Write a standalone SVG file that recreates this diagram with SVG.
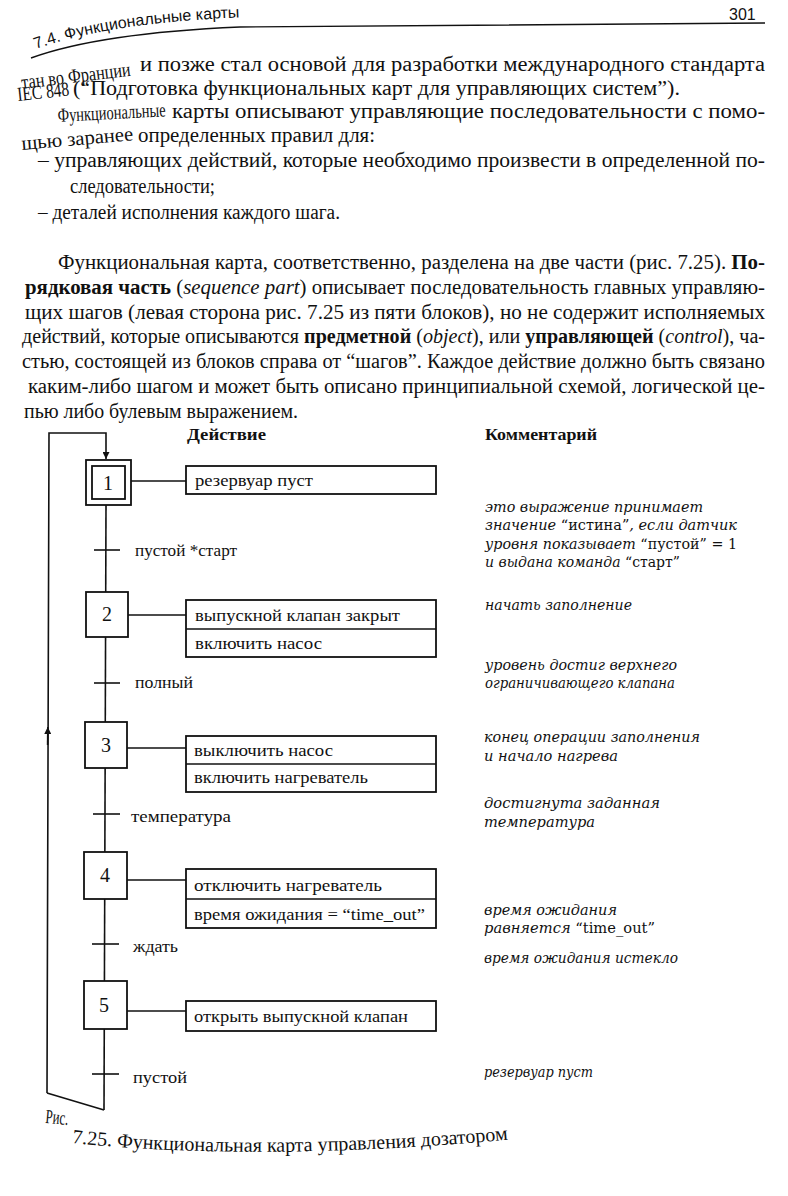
<svg xmlns="http://www.w3.org/2000/svg" width="788" height="1196" viewBox="0 0 788 1196">
<style>
.body{font-family:"Liberation Serif",serif;font-size:20px;fill:#111}
.b{font-weight:bold}
.i{font-style:italic}
.hdr{font-family:"Liberation Sans",sans-serif;font-size:16px;fill:#111}
.lbl{font-family:"Liberation Serif",serif;font-size:17px;fill:#111}
.num{font-family:"Liberation Serif",serif;font-size:20px;fill:#111;text-anchor:middle}
.hd{font-family:"Liberation Serif",serif;font-size:17px;font-weight:bold;fill:#111}
.cm{font-family:"DejaVu Serif",serif;font-style:italic;font-size:14px;fill:#111}
.up{font-style:normal}
.box{fill:#fff;stroke:#111;stroke-width:1.8}
.ln{stroke:#111;stroke-width:1.6;fill:none}
.rule{stroke:#111;stroke-width:1.4;fill:none}
</style>
<defs>
<marker id="ah" viewBox="0 0 10 10" refX="10" refY="5" markerWidth="7" markerHeight="7" orient="auto" markerUnits="userSpaceOnUse">
<path d="M0,0 L10,5 L0,10 z" fill="#111"/>
</marker>
<path id="hp" d="M 36 49 Q 110 22 250 17"/>
<path id="cp" d="M 72 1143 Q 260 1162 505 1140"/>
</defs>
<rect width="788" height="1196" fill="#fff"/>

<g id="page-header">
<text class="hdr"><textPath href="#hp">7.4. Функциональные карты</textPath></text>
<text class="hdr" x="729" y="20" font-size="17">301</text>
<path class="rule" d="M 31 58 Q 100 33 240 27 L 765 23"/>
</g>

<g id="paragraph-1">
<text class="body" x="22" y="89" transform="rotate(-7 22 89)" textLength="110" lengthAdjust="spacingAndGlyphs">тан во Франции</text>
<text class="body" x="140" y="71" textLength="625" lengthAdjust="spacingAndGlyphs">и позже стал основой для разработки международного стандарта</text>
<text class="body" x="18" y="101" transform="rotate(-6 18 101)" textLength="52" lengthAdjust="spacingAndGlyphs">IEC 848</text>
<text class="body" x="73" y="95" textLength="607" lengthAdjust="spacingAndGlyphs">(“Подготовка функциональных карт для управляющих систем”).</text>
<text class="body" x="58" y="122" transform="rotate(-3 58 122)" textLength="108" lengthAdjust="spacingAndGlyphs">Функциональные</text>
<text class="body" x="172" y="118" textLength="593" lengthAdjust="spacingAndGlyphs">карты описывают управляющие последовательности с помо-</text>
<text class="body" x="22" y="150" transform="rotate(-5 22 150)" textLength="112" lengthAdjust="spacingAndGlyphs">щью заранее</text>
<text class="body" x="138" y="142" textLength="237" lengthAdjust="spacingAndGlyphs">определенных правил для:</text>
<text class="body" x="38" y="167" textLength="727" lengthAdjust="spacingAndGlyphs">– управляющих действий, которые необходимо произвести в определенной по-</text>
<text class="body" x="70" y="193" textLength="145" lengthAdjust="spacingAndGlyphs">следовательности;</text>
<text class="body" x="38" y="219" textLength="302" lengthAdjust="spacingAndGlyphs">– деталей исполнения каждого шага.</text>
</g>

<g id="paragraph-2">
<text class="body" x="58" y="269" textLength="707" lengthAdjust="spacingAndGlyphs">Функциональная карта, соответственно, разделена на две части (рис. 7.25). <tspan class="b">По-</tspan></text>
<text class="body" x="25" y="294" textLength="740" lengthAdjust="spacingAndGlyphs"><tspan class="b">рядковая часть</tspan> (<tspan class="i">sequence part</tspan>) описывает последовательность главных управляю-</text>
<text class="body" x="25" y="319" textLength="740" lengthAdjust="spacingAndGlyphs">щих шагов (левая сторона рис. 7.25 из пяти блоков), но не содержит исполняемых</text>
<text class="body" x="22" y="343" textLength="743" lengthAdjust="spacingAndGlyphs">действий, которые описываются <tspan class="b">предметной</tspan> (<tspan class="i">object</tspan>), или <tspan class="b">управляющей</tspan> (<tspan class="i">control</tspan>), ча-</text>
<text class="body" x="22" y="368" textLength="743" lengthAdjust="spacingAndGlyphs">стью, состоящей из блоков справа от “шагов”. Каждое действие должно быть связано</text>
<text class="body" x="28" y="393" textLength="737" lengthAdjust="spacingAndGlyphs">каким-либо шагом и может быть описано принципиальной схемой, логической це-</text>
<text class="body" x="24" y="418" textLength="274" lengthAdjust="spacingAndGlyphs">пью либо булевым выражением.</text>
</g>

<g id="column-headers">
<text class="hd" x="187" y="440" textLength="79" lengthAdjust="spacingAndGlyphs">Действие</text>
<text class="hd" x="485" y="440" textLength="112" lengthAdjust="spacingAndGlyphs">Комментарий</text>
</g>

<g id="connectors">
<path class="ln" d="M 47 1093 L 49 433 L 106 433 L 106 459" marker-end="url(#ah)"/>
<path class="ln" d="M 47.6 745 L 47.8 727" marker-end="url(#ah)"/>
<path class="ln" d="M 47 1093 L 104 1110"/>
<path class="ln" d="M 106 505 L 104 1110"/>
<path class="ln" d="M 131 481 L 186 481"/>
<path class="ln" d="M 128 615 L 186 615"/>
<path class="ln" d="M 127 748 L 186 748"/>
<path class="ln" d="M 127 880 L 186 880"/>
<path class="ln" d="M 127 1011 L 186 1011"/>
</g>

<g id="transitions">
<path class="ln" d="M 94 550 L 120 550"/>
<path class="ln" d="M 94 683 L 120 683"/>
<path class="ln" d="M 93 814 L 120 814"/>
<path class="ln" d="M 92 944 L 119 944"/>
<path class="ln" d="M 92 1074 L 119 1074"/>
<text class="lbl" x="135" y="556" textLength="102" lengthAdjust="spacingAndGlyphs">пустой *старт</text>
<text class="lbl" x="135" y="688" textLength="58" lengthAdjust="spacingAndGlyphs">полный</text>
<text class="lbl" x="131" y="822" textLength="100" lengthAdjust="spacingAndGlyphs">температура</text>
<text class="lbl" x="133" y="952" textLength="45" lengthAdjust="spacingAndGlyphs">ждать</text>
<text class="lbl" x="133" y="1083" textLength="54" lengthAdjust="spacingAndGlyphs">пустой</text>
</g>

<g id="step-1">
<rect class="box" x="86" y="460" width="45" height="45"/>
<rect class="box" x="92" y="466" width="33" height="33"/>
<text class="num" x="108" y="490">1</text>
</g>
<g id="step-2">
<rect class="box" x="86" y="592" width="42" height="45"/>
<text class="num" x="107" y="621">2</text>
</g>
<g id="step-3">
<rect class="box" x="85" y="722" width="42" height="46"/>
<text class="num" x="106" y="752">3</text>
</g>
<g id="step-4">
<rect class="box" x="84" y="852" width="43" height="47"/>
<text class="num" x="105" y="882">4</text>
</g>
<g id="step-5">
<rect class="box" x="84" y="981" width="43" height="48"/>
<text class="num" x="104" y="1012">5</text>
</g>

<g id="action-1">
<rect class="box" x="186" y="466" width="250" height="28"/>
<text class="lbl" x="195" y="486" textLength="118" lengthAdjust="spacingAndGlyphs">резервуар пуст</text>
</g>
<g id="action-2">
<rect class="box" x="186" y="600" width="250" height="57"/>
<path class="ln" d="M 186 629 L 436 629"/>
<text class="lbl" x="195" y="621" textLength="205" lengthAdjust="spacingAndGlyphs">выпускной клапан закрыт</text>
<text class="lbl" x="195" y="649" textLength="127" lengthAdjust="spacingAndGlyphs">включить насос</text>
</g>
<g id="action-3">
<rect class="box" x="186" y="736" width="250" height="56"/>
<path class="ln" d="M 186 764 L 436 764"/>
<text class="lbl" x="194" y="756" textLength="139" lengthAdjust="spacingAndGlyphs">выключить насос</text>
<text class="lbl" x="194" y="783" textLength="174" lengthAdjust="spacingAndGlyphs">включить нагреватель</text>
</g>
<g id="action-4">
<rect class="box" x="186" y="869" width="250" height="59"/>
<path class="ln" d="M 186 899 L 436 899"/>
<text class="lbl" x="194" y="891" textLength="188" lengthAdjust="spacingAndGlyphs">отключить нагреватель</text>
<text class="lbl" x="194" y="920" textLength="231" lengthAdjust="spacingAndGlyphs">время ожидания = “time_out”</text>
</g>
<g id="action-5">
<rect class="box" x="186" y="1001" width="250" height="30"/>
<text class="lbl" x="194" y="1022" textLength="214" lengthAdjust="spacingAndGlyphs">открыть выпускной клапан</text>
</g>

<g id="comments">
<text class="cm" x="485" y="512" textLength="218" lengthAdjust="spacingAndGlyphs">это выражение принимает</text>
<text class="cm" x="485" y="530" textLength="252" lengthAdjust="spacingAndGlyphs">значение <tspan class="up">“истина”</tspan>, если датчик</text>
<text class="cm" x="485" y="549" textLength="252" lengthAdjust="spacingAndGlyphs">уровня показывает <tspan class="up">“пустой” = 1</tspan></text>
<text class="cm" x="485" y="567" textLength="195" lengthAdjust="spacingAndGlyphs">и выдана команда <tspan class="up">“старт”</tspan></text>
<text class="cm" x="485" y="610" textLength="147" lengthAdjust="spacingAndGlyphs">начать заполнение</text>
<text class="cm" x="485" y="670" textLength="192" lengthAdjust="spacingAndGlyphs">уровень достиг верхнего</text>
<text class="cm" x="485" y="688" textLength="190" lengthAdjust="spacingAndGlyphs">ограничивающего клапана</text>
<text class="cm" x="484" y="742" textLength="216" lengthAdjust="spacingAndGlyphs">конец операции заполнения</text>
<text class="cm" x="484" y="761" textLength="134" lengthAdjust="spacingAndGlyphs">и начало нагрева</text>
<text class="cm" x="484" y="808" textLength="176" lengthAdjust="spacingAndGlyphs">достигнута заданная</text>
<text class="cm" x="484" y="827" textLength="111" lengthAdjust="spacingAndGlyphs">температура</text>
<text class="cm" x="484" y="915" textLength="133" lengthAdjust="spacingAndGlyphs">время ожидания</text>
<text class="cm" x="484" y="933" textLength="171" lengthAdjust="spacingAndGlyphs">равняется <tspan class="up">“time_out”</tspan></text>
<text class="cm" x="484" y="963" textLength="194" lengthAdjust="spacingAndGlyphs">время ожидания истекло</text>
<text class="cm" x="484" y="1077" textLength="109" lengthAdjust="spacingAndGlyphs">резервуар пуст</text>
</g>

<g id="caption">
<text class="body" x="45" y="1123" font-size="13" transform="rotate(5 45 1123)" textLength="23" lengthAdjust="spacingAndGlyphs">Рис.</text>
<text class="body" font-size="19.5"><textPath href="#cp">7.25. Функциональная карта управления дозатором</textPath></text>
</g>
</svg>
